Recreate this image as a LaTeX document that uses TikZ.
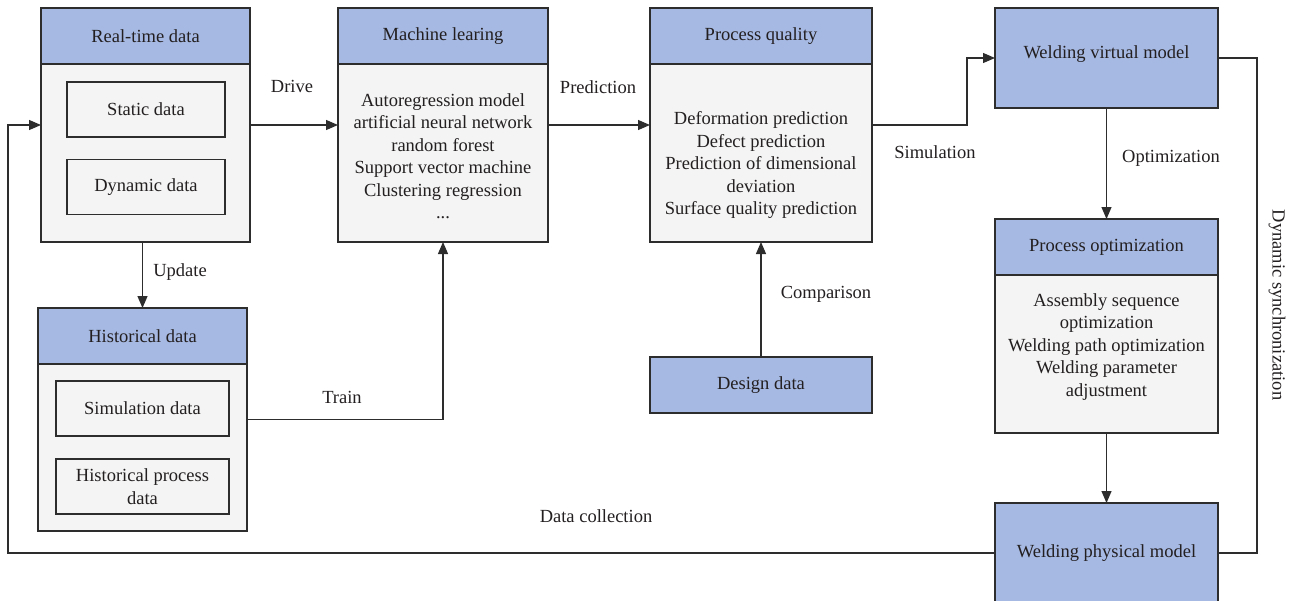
\documentclass[tikz,border=0pt]{standalone}
\usepackage{fontspec}
\setmainfont{Liberation Serif}
\usetikzlibrary{arrows.meta}

\definecolor{hdblue}{RGB}{166,185,227}
\definecolor{bodygray}{RGB}{243,244,243}
\definecolor{edge}{RGB}{45,45,45}
\definecolor{txt}{RGB}{35,31,32}

\tikzset{
  every node/.style={font=\fontsize{18.5}{22.5}\selectfont, text=txt},
  box/.style={draw=edge, line width=1.2pt, fill=bodygray, inner sep=0pt, outer sep=0pt, align=center},
  head/.style={box, fill=hdblue},
  lbl/.style={inner sep=0pt},
  con/.style={draw=edge, line width=1.2pt},
  arr/.style={con, -{Triangle[length=12pt,width=10pt]}}
}

\begin{document}
\begin{tikzpicture}[x=1pt,y=-1pt]
\useasboundingbox (0,0) rectangle (1298,600);
\node (rt) at (145.5,125) [box, minimum width=209pt, minimum height=234pt] {};
\node (rth) at (145.5,36) [head, minimum width=209pt, minimum height=56pt] {Real-time data};
\node (static) at (146,109.5) [box, minimum width=158pt, minimum height=55pt] {Static data};
\node (dynamic) at (146,187) [box, minimum width=158pt, minimum height=55pt] {Dynamic data};
\node (hd) at (142.5,419.5) [box, minimum width=209pt, minimum height=223pt] {};
\node (hdh) at (142.5,336) [head, minimum width=209pt, minimum height=56pt] {Historical data};
\node (simdata) at (142.5,408.5) [box, minimum width=173pt, minimum height=55pt] {Simulation data};
\node (hpdata) at (142.5,486.5) [box, minimum width=173pt, minimum height=55pt] {Historical process\\data};
\node (ml) at (443,125) [box, minimum width=210pt, minimum height=234pt] {};
\node (mlh) at (443,36) [head, minimum width=210pt, minimum height=56pt] {Machine learing};
\node (mltext) at (443,156) [lbl, align=center] {Autoregression model\\artificial neural network\\random forest\\Support vector machine\\Clustering regression\\...};
\node (pq) at (761,125) [box, minimum width=222pt, minimum height=234pt] {};
\node (pqh) at (761,36) [head, minimum width=222pt, minimum height=56pt] {Process quality};
\node (pqtext) at (761,165) [lbl, align=center] {Deformation prediction\\Defect prediction\\Prediction of dimensional\\deviation\\Surface quality prediction};
\node (dd) at (761,385) [head, minimum width=222pt, minimum height=56pt] {Design data};
\node (wvm) at (1106.5,58) [head, minimum width=223pt, minimum height=100pt, text depth=12pt] {Welding virtual model};
\node (po) at (1106.5,326) [box, minimum width=223pt, minimum height=214pt] {};
\node (poh) at (1106.5,247) [head, minimum width=223pt, minimum height=56pt] {Process optimization};
\node (potext) at (1106.5,347) [lbl, align=center] {Assembly sequence\\optimization\\Welding path optimization\\Welding parameter\\adjustment};
\node (wpm) at (1106.5,553) [head, minimum width=223pt, minimum height=100pt] {Welding physical model};
\coordinate (simc) at (967,125);
\coordinate (dcc) at (8,553);
\coordinate (dsc) at (1257,553);
\draw[arr] (rt.east) -- (ml.west);
\draw[arr] (ml.east) -- (pq.west);
\draw[arr] (pq.east) -- (simc) |- (wvm.west);
\draw[arr] (wvm.south) -- (po.north);
\draw[arr] (po.south) -- (wpm.north);
\draw[con] (wpm.east) -- (dsc) |- (wvm.east);
\draw[arr] (wpm.west) -- (dcc) |- (rt.west);
\draw[arr] (hd.north |- rt.south) -- (hd.north);
\draw[arr] (hd.east) -| (ml.south);
\draw[arr] (dd.north) -- (pq.south);
\node (drive) at (292,86) [lbl] {Drive};
\node (pred) at (598,87) [lbl] {Prediction};
\node (simlbl) at (935,152) [lbl] {Simulation};
\node (opt) at (1171,158) [lbl] {Optimization};
\node (comp) at (826,294) [lbl] {Comparison};
\node (upd) at (180,272) [lbl] {Update};
\node (train) at (342,397) [lbl] {Train};
\node (dcol) at (596,516) [lbl] {Data collection};
\node (dsync) at (1277,305) [lbl, rotate=-90] {Dynamic synchronization};
\end{tikzpicture}
\end{document}
